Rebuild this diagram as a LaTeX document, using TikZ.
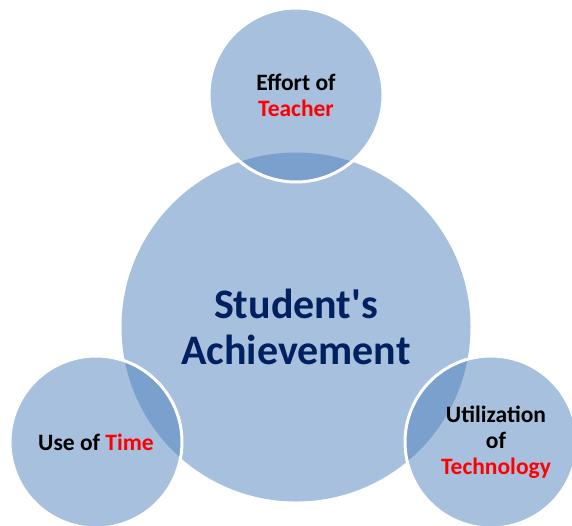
\documentclass[tikz,border=0pt]{standalone}
\usepackage{fontspec}
\setmainfont{Carlito}
\definecolor{bubble}{HTML}{4F81BD}
\definecolor{navy}{HTML}{002060}
\definecolor{accent}{HTML}{FF0000}

\begin{document}
\begin{tikzpicture}[x=1pt,y=-1pt,
    bubble/.style={circle,inner sep=0pt,fill=bubble,fill opacity=.5,text opacity=1,
      align=center,font=\bfseries},
    side/.style={bubble,draw=white,line width=3pt,
      font=\fontsize{23.5}{26}\selectfont\bfseries}]
    \useasboundingbox (0,0) rectangle (572,525);
    \node[bubble,minimum size=349pt,text=navy,font=\fontsize{42}{46}\selectfont\bfseries]
      (achieve) at (296,327) {Student\textquotesingle s\\Achievement};
    \node[side,minimum size=174pt] (teacher) at (296,95)
      {Effort of\\\textcolor{accent}{Teacher}};
    \node[side,minimum size=172pt] (time) at (96,442)
      {Use of \textcolor{accent}{Time}};
    \node[side,minimum size=172pt] (techno) at (491,442)
      {\hspace*{10pt}Utilization\\\hspace*{10pt}of\\\hspace*{10pt}\textcolor{accent}{Technology}};
  \end{tikzpicture}
\end{document}
